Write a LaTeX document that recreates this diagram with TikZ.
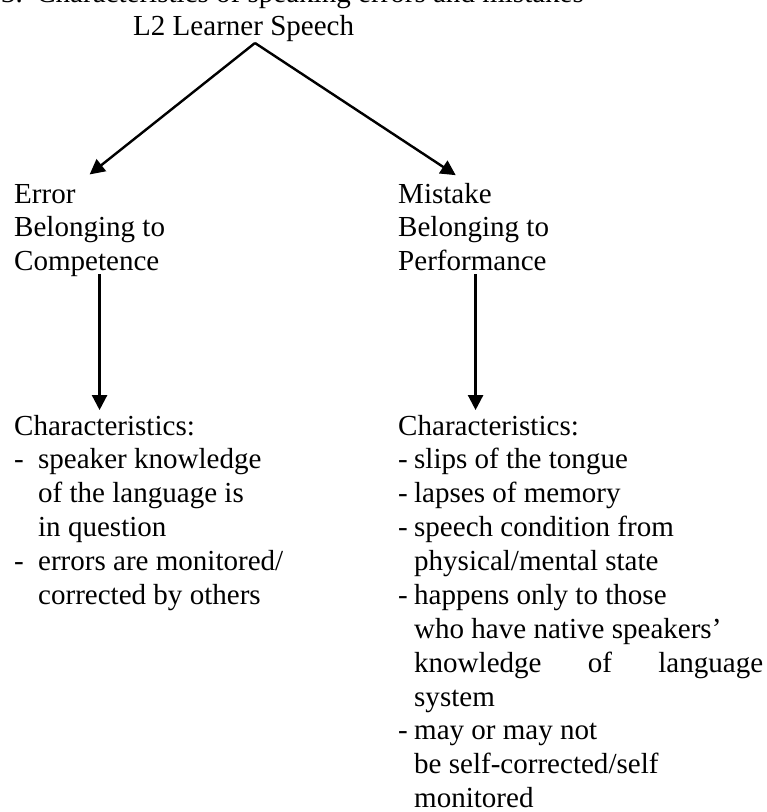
\documentclass[tikz,border=0pt]{standalone}
\usepackage{fontspec}
\setmainfont{Liberation Serif}
\usepackage{tikz}
\usetikzlibrary{arrows.meta,positioning}

\begin{document}
\begin{tikzpicture}[>={Triangle[length=6.2pt,width=6.2pt]},line width=1pt,x=0.4132pt,y=-0.4132pt]
            \tikzset{
                plain/.style={
                    inner sep=0,
                    anchor=base west,
                    font=\fontsize{12}{14}\selectfont
                },
                link/.style={->,line width=1pt}
            }

            \useasboundingbox (0,0) rectangle (767,812);
            \clip (0,0) rectangle (767,812);

            % Heading and root
            \node[plain] (heading) at (0,2) {3.\hspace{5.5pt}Characteristics of speaking errors and mistakes};
            \node[plain] (root) at (132,35) {L2 Learner Speech};
            \coordinate (apex) at (255,43);

            % Error branch
            \node[plain] (err) at (13,203) {\begin{tabular}[t]{@{}l@{}}Error\\Belonging to\\Competence\end{tabular}};
            \node[plain] (errchar) at (13,435) {\begin{tabular}[t]{@{}p{9.9pt}@{}l@{}}
                \multicolumn{2}{@{}l@{}}{Characteristics:}\\
                - & speaker knowledge\\
                  & of the language is\\
                  & in question\\
                - & errors are monitored/\\
                  & corrected by others
            \end{tabular}};

            % Mistake branch
            \node[plain] (mis) at (397,203) {\begin{tabular}[t]{@{}l@{}}Mistake\\Belonging to\\Performance\end{tabular}};
            \node[plain] (mischar) at (397,435) {\begin{tabular}[t]{@{}p{6.6pt}@{}l@{}}
                \multicolumn{2}{@{}l@{}}{Characteristics:}\\
                - & slips of the tongue\\
                - & lapses of memory\\
                - & speech condition from\\
                  & physical/mental state\\
                - & happens only to those\\
                  & who have native speakers'\\
                  & \makebox[144.2pt][s]{knowledge of language}\\
                  & system\\
                - & may or may not\\
                  & be self-corrected/self\\
                  & monitored
            \end{tabular}};

            \coordinate (errfoot) at ([xshift=4.1pt,yshift=3.3pt]err.south);
            \coordinate (misfoot) at ([xshift=0.8pt,yshift=3.3pt]mis.south);

            \draw[link] (apex) -- ([yshift=1.5pt]err.north);
            \draw[link] (apex) -- ([xshift=-7.4pt,yshift=1.2pt]mis.north);
            \draw[link] (errfoot) -- (errfoot |- errchar.north);
            \draw[link] (misfoot) -- (misfoot |- mischar.north);
        \end{tikzpicture}
\end{document}
